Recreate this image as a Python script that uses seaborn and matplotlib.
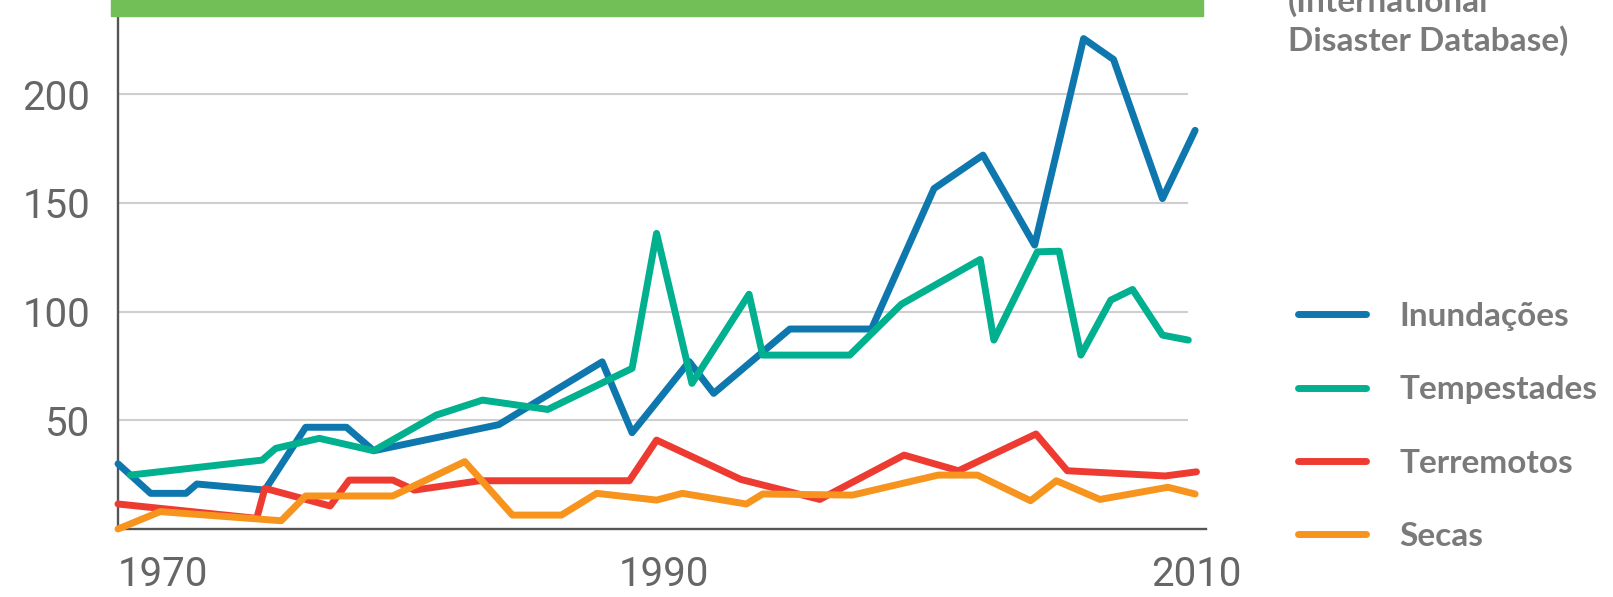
import numpy as np
import pandas as pd
import matplotlib
matplotlib.use("Agg")
import matplotlib.pyplot as plt
from matplotlib.patches import Rectangle
from matplotlib.lines import Line2D
from matplotlib.transforms import ScaledTranslation
import seaborn as sns

# EM-DAT: número de desastres por ano, 1970-2010
inund_anos = [1970, 1971.2, 1972.5, 1972.9, 1975.4, 1976.9, 1978.4, 1979.4, 1984.0, 1987.8,
              1988.9, 1991.0, 1991.9, 1994.7, 1997.7, 2000.0, 2001.8, 2003.7, 2005.5, 2006.6,
              2008.4, 2009.6]
inund_vals = [30, 16.4, 16.4, 20.7, 17.9, 46.8, 46.8, 36, 48, 76.9,
              44.3, 77, 62.4, 92, 92, 156.6, 172, 130.6, 225.6, 216,
              152, 183.4]

tempest_anos = [1970.45, 1975.3, 1975.8, 1977.4, 1979.4, 1981.7, 1983.4, 1985.8, 1988.9, 1989.8,
                1991.1, 1993.2, 1993.7, 1996.9, 1998.8, 2001.7, 2002.2, 2003.8, 2004.6, 2005.4,
                2006.5, 2007.3, 2008.4, 2009.35]
tempest_vals = [24.8, 31.7, 37.1, 41.7, 36, 52.4, 59.3, 55, 73.9, 136,
                67, 108, 80, 80, 103.4, 124, 86.9, 127.5, 127.8, 80,
                105.3, 110.2, 89.2, 86.9]

terrem_anos = [1970, 1975.1, 1975.4, 1977.8, 1978.5, 1980.1, 1980.9, 1983.3, 1988.8, 1989.8,
               1992.9, 1995.8, 1998.9, 2000.9, 2003.75, 2004.9, 2008.5, 2009.65]
terrem_vals = [11.5, 4.9, 18.7, 10.6, 22.5, 22.5, 17.9, 22.2, 22.2, 40.9,
               22.8, 13.6, 34, 26.8, 43.7, 26.8, 24.4, 26.3]

secas_anos = [1970, 1971.55, 1976.0, 1976.9, 1980.1, 1982.75, 1984.5, 1986.3, 1987.6, 1989.8,
              1990.75, 1993.1, 1993.7, 1997.0, 2000.15, 2001.6, 2003.55, 2004.5, 2006.1, 2008.6,
              2009.6]
secas_vals = [0, 8, 3.8, 15.2, 15.2, 31, 6.4, 6.4, 16.4, 13.3,
              16.4, 11.5, 16.1, 15.6, 24.8, 24.8, 13, 22.2, 13.6, 19.2,
              16.1]

series = [
    ("Inundações", inund_anos, inund_vals, "#0E77AE"),
    ("Tempestades", tempest_anos, tempest_vals, "#00B08E"),
    ("Terremotos", terrem_anos, terrem_vals, "#EE3B32"),
    ("Secas", secas_anos, secas_vals, "#F7941E"),
]

y_ticks = [50, 100, 150, 200]
x_ticks = [1970, 1980, 1990, 2000, 2010]
x_labels = ["1970", "", "1990", "", "2010"]

sns.set_style("white")
tick_font = ["Liberation Sans Narrow", "Roboto", "DejaVu Sans"]
bold_font = ["Lato", "DejaVu Sans"]
LW = 5.0

W, H = 1613, 597
fig = plt.figure(figsize=(W / 100, H / 100), dpi=100)
ax = fig.add_axes([118 / W, 1 - 529 / H, (1206 - 118) / W, (529 - 16) / H])

for nome, anos, vals, cor in series:
    df = pd.DataFrame({"ano": anos, "n": vals})
    sns.lineplot(data=df, x="ano", y="n", ax=ax, color=cor, linewidth=LW,
                 estimator=None, sort=False, label=nome, clip_on=False,
                 solid_capstyle="round", solid_joinstyle="round", zorder=3)

ax.hlines(y_ticks, 1970, 2009.35, colors="#cfcfcf", lw=1.5, zorder=1)

ax.set_xlim(1970, 2010)
ax.set_ylim(0, 236)
ax.set_xlabel("")
ax.set_ylabel("")

for s in ["top", "right"]:
    ax.spines[s].set_visible(False)
for s in ["left", "bottom"]:
    ax.spines[s].set_color("#555555")
    ax.spines[s].set_linewidth(1.7)

ax.set_yticks(y_ticks)
ax.set_yticklabels([str(v) for v in y_ticks])
ax.tick_params(axis="y", length=0, pad=20, labelsize=29, labelcolor="#666666")
ax.set_xticks(x_ticks)
ax.set_xticklabels(x_labels)
ax.tick_params(axis="x", direction="out", length=5, width=1.7, color="#555555",
               pad=14, labelsize=29, labelcolor="#666666")
for lab in ax.get_xticklabels() + ax.get_yticklabels():
    lab.set_fontfamily(tick_font)

xl = ax.get_xticklabels()
xl[0].set_horizontalalignment("left")
xl[2].set_transform(xl[2].get_transform() + ScaledTranslation(0.02, 0, fig.dpi_scale_trans))
xl[4].set_transform(xl[4].get_transform() + ScaledTranslation(-0.10, 0, fig.dpi_scale_trans))

# faixa verde do título (cortada no topo)
fig.patches.append(Rectangle((111 / W, 1 - 16 / H), (1203 - 111) / W, 16 / H,
                             transform=fig.transFigure, color="#72BF57", zorder=0))

# fonte dos dados (cortada no topo, como no original)
fig.text(1288 / W, 1 - 12 / H, "(International", ha="left", va="baseline",
         fontsize=24, fontweight="bold", color="#7a7a7a", family=bold_font)
fig.text(1288 / W, 1 - 51 / H, "Disaster Database)", ha="left", va="baseline",
         fontsize=24, fontweight="bold", color="#7a7a7a", family=bold_font)

ax.get_legend().remove()
handles = [Line2D([], [], color=c, lw=LW, solid_capstyle="round") for _, _, _, c in series]
labels = [n for n, _, _, _ in series]
leg = fig.legend(handles, labels, loc="upper left",
                 bbox_to_anchor=(1298 / W, 1 - 302 / H), bbox_transform=fig.transFigure,
                 frameon=False, borderpad=0, borderaxespad=0, handlelength=2.05,
                 handletextpad=1.0, labelspacing=1.33,
                 prop={"family": bold_font, "weight": "bold", "size": 24})
for t in leg.get_texts():
    t.set_color("#7a7a7a")

fig.savefig("out.png", dpi=100)
